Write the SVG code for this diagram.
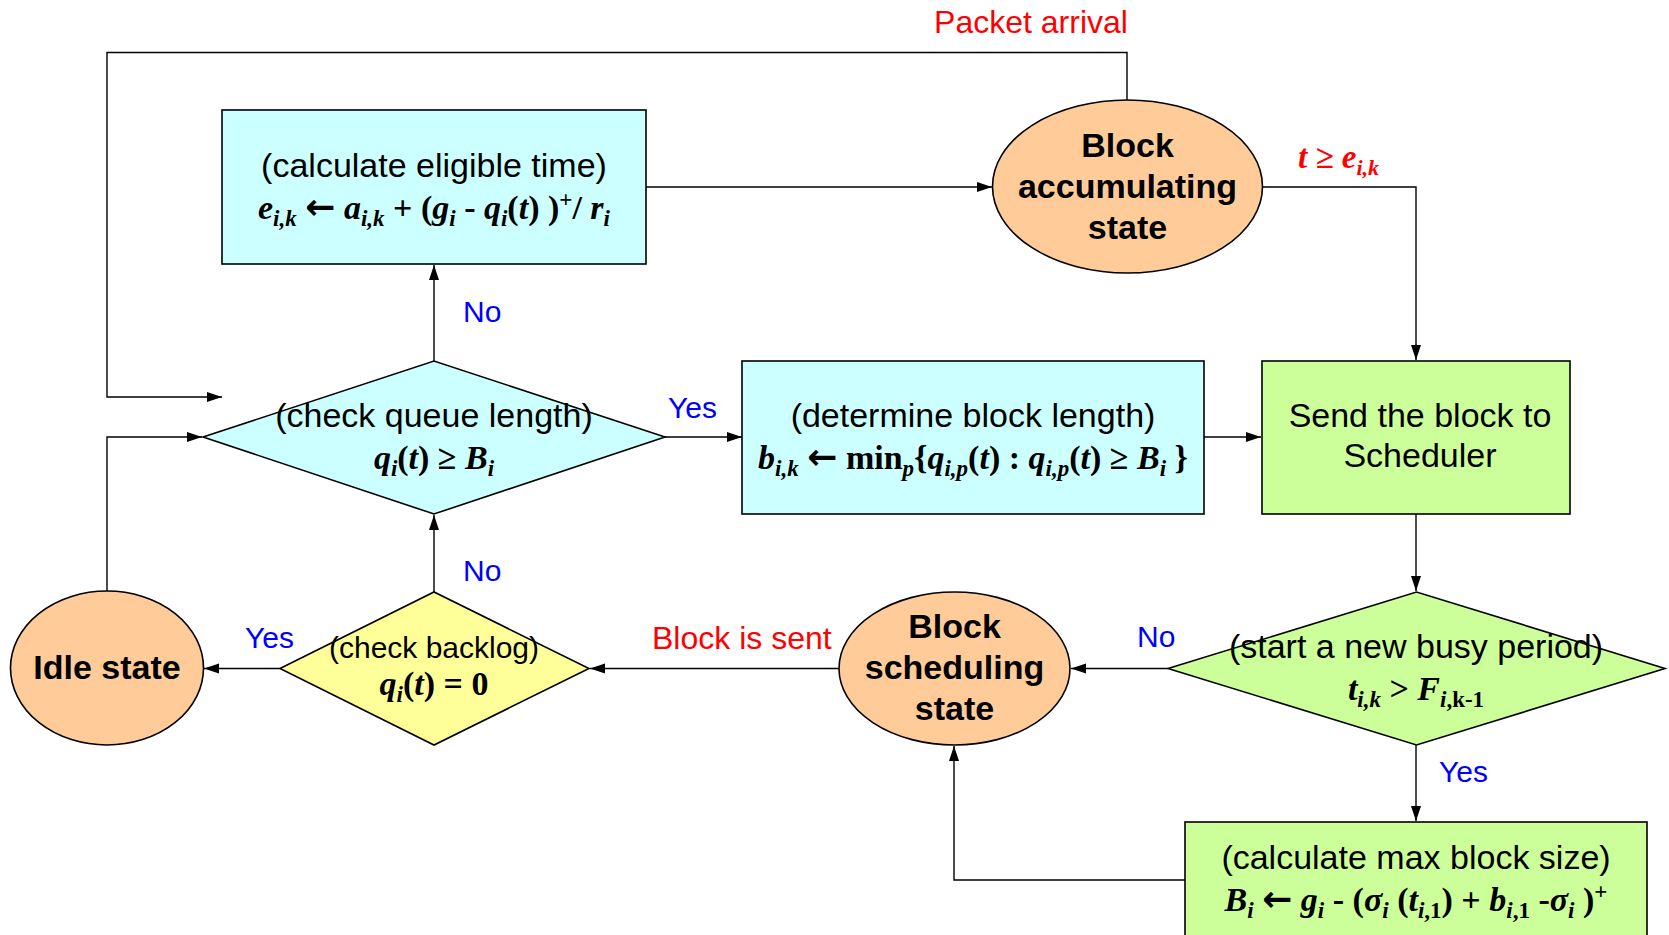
<svg xmlns="http://www.w3.org/2000/svg" width="1669" height="935" viewBox="0 0 1669 935">
  <style>
    .shape { stroke: #000; stroke-width: 1.6; }
    .cyan { fill: #CCFFFF; }
    .orange { fill: #FFCC99; }
    .yellow { fill: #FFFF99; }
    .green { fill: #CCFF99; }
    .wire { fill: none; stroke: #000; stroke-width: 1.4; }
    .arrow { marker-end: url(#head); }
    .t { font-family: "Liberation Sans", Arial, sans-serif; font-size: 34px; fill: #000; text-anchor: middle; }
    .tb { font-family: "Liberation Sans", Arial, sans-serif; font-size: 34px; font-weight: bold; fill: #000; text-anchor: middle; }
    .small { font-size: 30px; }
    .m { font-family: "Liberation Serif", "Times New Roman", serif; font-size: 34px; font-weight: bold; fill: #000; text-anchor: middle; }
    .i { font-style: italic; }
    .s { font-size: 23px; }
    .ar { font-family: "DejaVu Sans", sans-serif; font-weight: bold; font-size: 36px; }
    .lbl { font-family: "Liberation Sans", Arial, sans-serif; font-size: 30px; fill: #0000FF; }
    .red { font-family: "Liberation Sans", Arial, sans-serif; font-size: 32px; fill: #FF0000; }
    .redm { font-family: "Liberation Serif", "Times New Roman", serif; font-size: 33px; font-weight: bold; font-style: italic; fill: #FF0000; }
  </style>
  <defs>
    <marker id="head" markerUnits="userSpaceOnUse" markerWidth="16" markerHeight="12" refX="15" refY="5" orient="auto">
      <path d="M0,0 L15,5 L0,10 z" fill="#000"/>
    </marker>
  </defs>

  <rect width="1669" height="935" fill="#fff"/>

  <!-- connectors -->
  <g id="connectors">
    <polyline class="wire arrow" points="1127,100 1127,52.5 107,52.5 107,397 222,397"/>
    <line class="wire arrow" x1="646" y1="187" x2="992" y2="187"/>
    <polyline class="wire arrow" points="1262,187 1416,187 1416,360"/>
    <line class="wire arrow" x1="434" y1="361" x2="434" y2="265"/>
    <line class="wire arrow" x1="665" y1="437" x2="742" y2="437"/>
    <line class="wire arrow" x1="1204" y1="437" x2="1261" y2="437"/>
    <line class="wire arrow" x1="1416" y1="514" x2="1416" y2="591"/>
    <line class="wire arrow" x1="1168" y1="668.5" x2="1071" y2="668.5"/>
    <line class="wire arrow" x1="1416" y1="745" x2="1416" y2="821"/>
    <polyline class="wire arrow" points="1185,880 954,880 954,746"/>
    <line class="wire arrow" x1="839" y1="668.5" x2="590" y2="668.5"/>
    <line class="wire arrow" x1="434" y1="592" x2="434" y2="515"/>
    <line class="wire arrow" x1="280" y1="668.5" x2="204" y2="668.5"/>
    <polyline class="wire arrow" points="107,591 107,437 202,437"/>

    <text class="red" x="1031" y="33" text-anchor="middle">Packet arrival</text>
    <text class="redm" x="1298" y="168">t ≥ e<tspan font-size="22px" baseline-shift="-7">i,k</tspan></text>
    <text class="lbl" x="463" y="322">No</text>
    <text class="lbl" x="668" y="418">Yes</text>
    <text class="lbl" x="463" y="581">No</text>
    <text class="lbl" x="245" y="648">Yes</text>
    <text class="red" x="652" y="649">Block is sent</text>
    <text class="lbl" x="1137" y="647">No</text>
    <text class="lbl" x="1439" y="782">Yes</text>
  </g>

  <!-- eligible time -->
  <g id="eligible">
    <rect class="shape cyan" x="222" y="110" width="424" height="154"/>
    <text class="t" x="434" y="177">(calculate eligible time)</text>
    <text class="m" x="434" y="219"><tspan class="i">e</tspan><tspan class="s i" baseline-shift="-7">i,k</tspan> <tspan class="ar">←</tspan> <tspan class="i">a</tspan><tspan class="s i" baseline-shift="-7">i,k</tspan> + (<tspan class="i">g</tspan><tspan class="s i" baseline-shift="-7">i</tspan> - <tspan class="i">q</tspan><tspan class="s i" baseline-shift="-7">i</tspan>(<tspan class="i">t</tspan>) )<tspan class="s" baseline-shift="12">+</tspan>/ <tspan class="i">r</tspan><tspan class="s i" baseline-shift="-7">i</tspan></text>
  </g>

  <!-- accumulating state -->
  <g id="accumulating">
    <ellipse class="shape orange" cx="1127.5" cy="186.5" rx="135" ry="86.5"/>
    <text class="tb" x="1127.5" y="157">Block</text>
    <text class="tb" x="1127.5" y="198">accumulating</text>
    <text class="tb" x="1127.5" y="239">state</text>
  </g>

  <!-- queue length check -->
  <g id="queue-check">
    <polygon class="shape cyan" points="203,437 434,361 665,437 434,514"/>
    <text class="t" x="434" y="427">(check queue length)</text>
    <text class="m" x="434" y="469"><tspan class="i">q</tspan><tspan class="s i" baseline-shift="-7">i</tspan>(<tspan class="i">t</tspan>) ≥ <tspan class="i">B</tspan><tspan class="s i" baseline-shift="-7">i</tspan></text>
  </g>

  <!-- block length -->
  <g id="block-length">
    <rect class="shape cyan" x="742" y="361" width="462" height="153"/>
    <text class="t" x="973" y="427">(determine block length)</text>
    <text class="m" x="973" y="469"><tspan class="i">b</tspan><tspan class="s i" baseline-shift="-7">i,k</tspan> <tspan class="ar">←</tspan> min<tspan class="s i" baseline-shift="-7">p</tspan>{<tspan class="i">q</tspan><tspan class="s i" baseline-shift="-7">i,p</tspan>(<tspan class="i">t</tspan>) : <tspan class="i">q</tspan><tspan class="s i" baseline-shift="-7">i,p</tspan>(<tspan class="i">t</tspan>) ≥ <tspan class="i">B</tspan><tspan class="s i" baseline-shift="-7">i</tspan> }</text>
  </g>

  <!-- send to scheduler -->
  <g id="send">
    <rect class="shape green" x="1262" y="361" width="308" height="153"/>
    <text class="t" x="1420" y="427">Send the block to</text>
    <text class="t" x="1420" y="467">Scheduler</text>
  </g>

  <!-- busy period check -->
  <g id="busy-check">
    <polygon class="shape green" points="1168,668.5 1416.5,592 1665,668.5 1416.5,745"/>
    <text class="t" x="1416" y="658">(start a new busy period)</text>
    <text class="m" x="1416" y="700"><tspan class="i">t</tspan><tspan class="s i" baseline-shift="-7">i,k</tspan> &gt; <tspan class="i">F</tspan><tspan class="s" baseline-shift="-7"><tspan class="i">i</tspan>,k-1</tspan></text>
  </g>

  <!-- max block size -->
  <g id="max-block">
    <rect class="shape green" x="1185" y="822" width="462" height="125"/>
    <text class="t" x="1416" y="869">(calculate max block size)</text>
    <text class="m" x="1416" y="911"><tspan class="i">B</tspan><tspan class="s i" baseline-shift="-7">i</tspan> <tspan class="ar">←</tspan> <tspan class="i">g</tspan><tspan class="s i" baseline-shift="-7">i</tspan> - (<tspan class="i">σ</tspan><tspan class="s i" baseline-shift="-7">i</tspan> (<tspan class="i">t</tspan><tspan class="s" baseline-shift="-7"><tspan class="i">i</tspan>,1</tspan>) + <tspan class="i">b</tspan><tspan class="s" baseline-shift="-7"><tspan class="i">i</tspan>,1</tspan> -<tspan class="i">σ</tspan><tspan class="s i" baseline-shift="-7">i</tspan> )<tspan class="s" baseline-shift="12">+</tspan></text>
  </g>

  <!-- scheduling state -->
  <g id="scheduling">
    <ellipse class="shape orange" cx="954.5" cy="668.5" rx="115.5" ry="76.5"/>
    <text class="tb" x="954.5" y="638">Block</text>
    <text class="tb" x="954.5" y="679">scheduling</text>
    <text class="tb" x="954.5" y="720">state</text>
  </g>

  <!-- backlog check -->
  <g id="backlog-check">
    <polygon class="shape yellow" points="280,668.5 434,592 589,668.5 434,745"/>
    <text class="t small" x="434" y="658">(check backlog)</text>
    <text class="m" x="434" y="695"><tspan class="i">q</tspan><tspan class="s i" baseline-shift="-7">i</tspan>(<tspan class="i">t</tspan>) = 0</text>
  </g>

  <!-- idle state -->
  <g id="idle">
    <ellipse class="shape orange" cx="107" cy="668" rx="96.5" ry="77"/>
    <text class="tb" x="107" y="679">Idle state</text>
  </g>
</svg>
